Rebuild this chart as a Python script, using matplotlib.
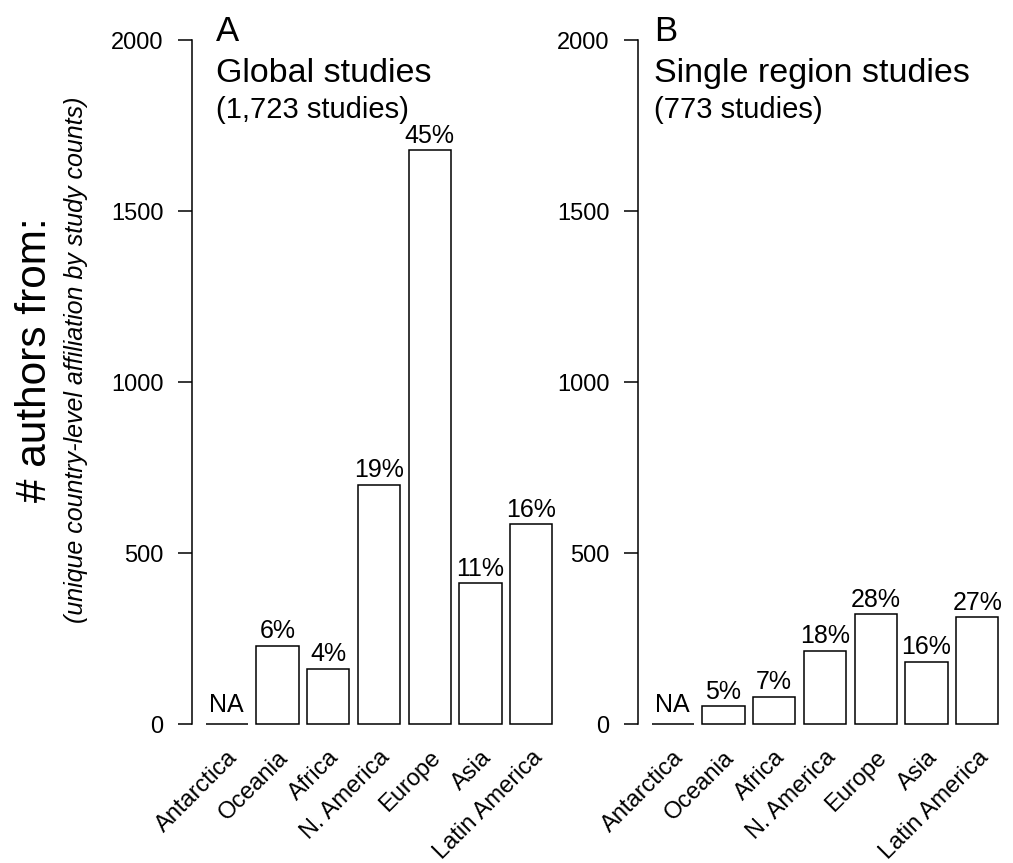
import matplotlib.pyplot as plt
import numpy as np

regions = ['Antarctica', 'Oceania', 'Africa', 'N. America', 'Europe', 'Asia', 'Latin America']
global_counts = [0, 229, 162, 700, 1678, 412, 585]
global_labels = ['NA', '6%', '4%', '19%', '45%', '11%', '16%']
single_counts = [0, 53, 81, 215, 322, 182, 313]
single_labels = ['NA', '5%', '7%', '18%', '28%', '16%', '27%']
y_ticks = [0, 500, 1000, 1500, 2000]

plt.rcParams['font.family'] = ['Liberation Sans', 'DejaVu Sans']

W, H = 1013, 863
fig = plt.figure(figsize=(W / 100, H / 100), dpi=100)


def px_axes(left, bottom, width, height):
    return fig.add_axes([left / W, bottom / H, width / W, height / H])


def draw_panel(ax, counts, labels, letter, title, subtitle, text_x):
    # base-R style barplot: unit-wide bars with 0.2 spacing
    x = 0.7 + 1.2 * np.arange(len(counts))
    ax.bar(x, counts, width=1.0, color='white', edgecolor='black', linewidth=1.1)
    for xi, v, lab in zip(x, counts, labels):
        off = 8.5 if lab == 'NA' else 5.5
        ax.annotate(lab, (xi, v), xytext=(0, off), textcoords='offset points',
                    ha='center', va='baseline', fontsize=18)

    ax.set_xlim(-0.128, 8.728)
    ax.set_ylim(-60, 2080)
    for side in ['top', 'right', 'bottom']:
        ax.spines[side].set_visible(False)
    ax.spines['left'].set_bounds(0, 2000)
    ax.spines['left'].set_linewidth(1.1)

    ax.set_yticks(y_ticks)
    ax.set_yticklabels([str(t) for t in y_ticks])
    ax.tick_params(axis='y', direction='out', length=9.9, width=1.1,
                   pad=10.5, labelsize=17)
    ax.set_xticks(x)
    ax.set_xticklabels(regions, rotation=45, ha='right', rotation_mode='anchor')
    ax.tick_params(axis='x', length=0, pad=1, labelsize=17)

    ax.text(text_x, 0.962, letter, transform=ax.transAxes, fontsize=25,
            ha='left', va='baseline')
    ax.text(text_x, 0.905, title, transform=ax.transAxes, fontsize=24.5,
            ha='left', va='baseline')
    ax.text(text_x, 0.857, subtitle, transform=ax.transAxes, fontsize=21,
            ha='left', va='baseline')


ax_a = px_axes(191.7, 118.2, 374.6, 731.9)
ax_b = px_axes(637.7, 118.2, 374.6, 731.9)

draw_panel(ax_a, global_counts, global_labels, 'A', 'Global studies',
           '(1,723 studies)', 0.065)
draw_panel(ax_b, single_counts, single_labels, 'B', 'Single region studies',
           '(773 studies)', 0.044)

fig.text(35.5 / W, 1 - 360 / H, '# authors from:', rotation=90,
         ha='center', va='center', fontsize=30.5)
fig.text(76.5 / W, 1 - 360 / H, '(unique country-level affiliation by study counts)',
         rotation=90, ha='center', va='center', fontsize=18, style='italic')

fig.savefig('out.png', dpi=100)
